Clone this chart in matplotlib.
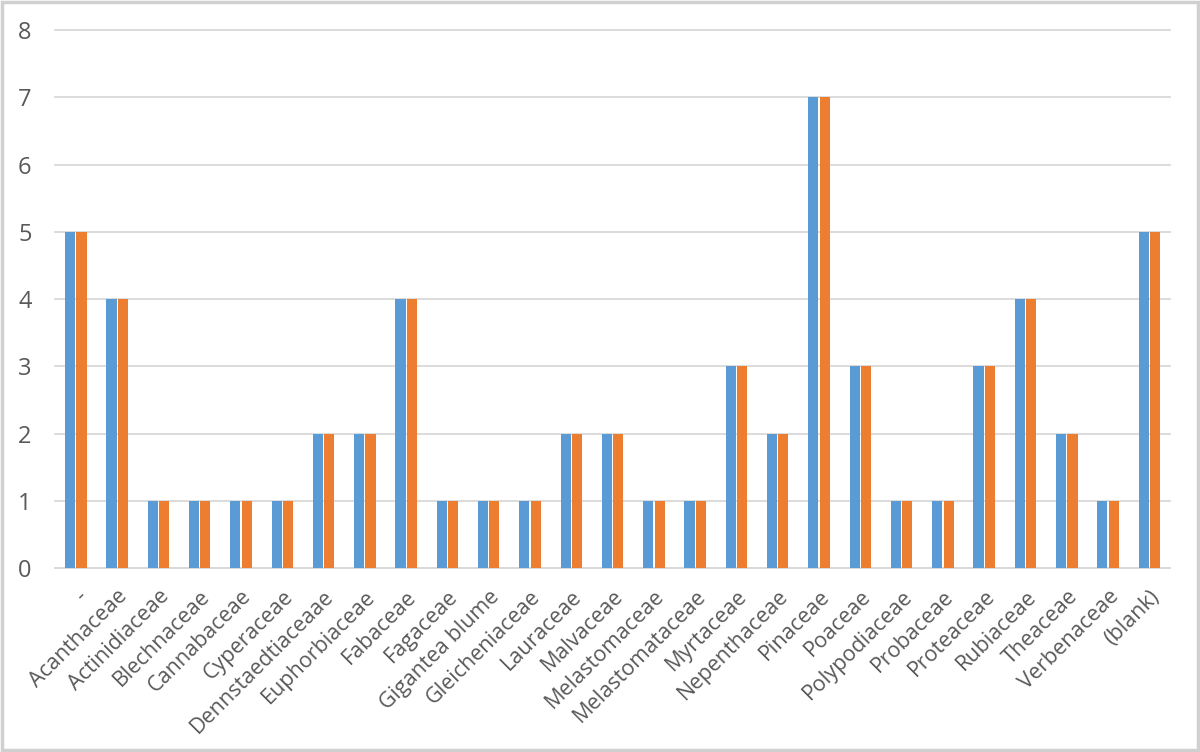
import numpy as np
import matplotlib.pyplot as plt
from matplotlib.patches import Rectangle

families = ["-", "Acanthaceae", "Actinidiaceae", "Blechnaceae", "Cannabaceae",
            "Cyperaceae", "Dennstaedtiaceaae", "Euphorbiaceae", "Fabaceae",
            "Fagaceae", "Gigantea blume", "Gleicheniaceae", "Lauraceae",
            "Malvaceae", "Melastomaceae", "Melastomataceae", "Myrtaceae",
            "Nepenthaceae", "Pinaceae", "Poaceae", "Polypodiaceae", "Probaceae",
            "Proteaceae", "Rubiaceae", "Theaceae", "Verbenaceae", "(blank)"]
count_a = [5, 4, 1, 1, 1, 1, 2, 2, 4, 1, 1, 1, 2, 2, 1, 1, 3, 2, 7, 3, 1, 1, 3, 4, 2, 1, 5]
count_b = [5, 4, 1, 1, 1, 1, 2, 2, 4, 1, 1, 1, 2, 2, 1, 1, 3, 2, 7, 3, 1, 1, 3, 4, 2, 1, 5]
yticks = [0, 1, 2, 3, 4, 5, 6, 7, 8]

plt.rcParams['font.family'] = ['Open Sans', 'DejaVu Sans']

fig = plt.figure(figsize=(12, 7.52), dpi=100)
ax = fig.add_axes([0.046, 0.2447, 0.929, 0.7153])

x = np.arange(len(families))
w = 0.245
ax.bar(x - w / 2 - 0.015, count_a, width=w, color="#5B9BD5", zorder=3)
ax.bar(x + w / 2 + 0.015, count_b, width=w, color="#ED7D31", zorder=3)

ax.set_xlim(-0.5, len(families) - 0.5)
ax.set_ylim(0, 8)
ax.set_yticks(yticks)
ax.yaxis.grid(True, color="#D9D9D9", linewidth=1.3, zorder=0)
for gl in ax.get_ygridlines():
    gl.set_clip_on(False)
for s in ["top", "right", "left"]:
    ax.spines[s].set_visible(False)
ax.spines["bottom"].set_color("#D9D9D9")
ax.spines["bottom"].set_linewidth(1.3)
ax.tick_params(axis="y", length=0, labelsize=17, labelcolor="#595959", pad=17)
ax.tick_params(axis="x", length=0, labelsize=15.5, labelcolor="#595959", pad=13)
ax.set_xticks(x)
ax.set_xticklabels(families, rotation=45, ha="right", rotation_mode="anchor")

fig.patches.append(Rectangle((0.002, 0.003), 0.996, 0.994, transform=fig.transFigure,
                             fill=False, edgecolor="#D0D0D0", linewidth=2.5))

fig.savefig("out.png", dpi=100)
